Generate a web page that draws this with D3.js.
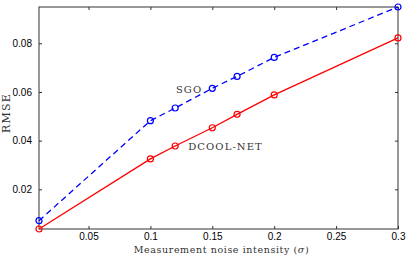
<!DOCTYPE html>
<html>
<head>
<meta charset="utf-8">
<script src="https://cdn.jsdelivr.net/npm/d3@7"></script>
<style>
  body { margin: 0; background: #fff; }
  svg { display: block; }
</style>
</head>
<body>
<script>
// noise levels (sigma) and RMSE per method
const sigma = [0.01, 0.1, 0.12, 0.15, 0.17, 0.2, 0.3];
const sgo = [0.0071, 0.0482, 0.0534, 0.0615, 0.0664, 0.0742, 0.0949];
const dcool = [0.0037, 0.0325, 0.0378, 0.0453, 0.0508, 0.0588, 0.0822];
const xTicks = [0.05, 0.1, 0.15, 0.2, 0.25, 0.3];
const yTicks = [0.02, 0.04, 0.06, 0.08];

const W = 407, H = 259;
let margin = {top: 7, right: 9, bottom: 30, left: 39},
  width = W - margin.left - margin.right,
  height = H - margin.top - margin.bottom;

let svg = d3.select("body")
  .append("svg")
  .attr("width", W)
  .attr("height", H)
  .append("g")
  .attr("transform", "translate(" + margin.left + "," + margin.top + ")");

let x = d3.scaleLinear().domain([0.01, 0.3]).range([0, width]);
let y = d3.scaleLinear().domain([0.0037, 0.0949]).range([height, 0]);

function styleAxis(g) {
  g.select(".domain").remove();
  g.selectAll("line").attr("stroke", "#333");
  g.selectAll("text")
    .style("font-family", "'Liberation Sans', Arial, sans-serif")
    .style("font-size", "10px")
    .attr("fill", "#000");
}

// bottom + left axes, ticks pointing inward
svg.append("g")
  .attr("transform", "translate(0," + height + ")")
  .call(d3.axisBottom(x).tickValues(xTicks).tickSizeInner(-3).tickSizeOuter(0).tickPadding(4).tickFormat(d3.format("")))
  .call(styleAxis);

svg.append("g")
  .call(d3.axisLeft(y).tickValues(yTicks).tickSizeInner(-3).tickSizeOuter(0).tickPadding(7).tickFormat(d3.format(".2f")))
  .call(styleAxis);

// mirror ticks on top and right
svg.append("g")
  .call(d3.axisTop(x).tickValues(xTicks).tickSizeInner(-3).tickSizeOuter(0).tickFormat(""))
  .call(styleAxis);
svg.append("g")
  .attr("transform", "translate(" + width + ",0)")
  .call(d3.axisRight(y).tickValues(yTicks).tickSizeInner(-3).tickSizeOuter(0).tickFormat(""))
  .call(styleAxis);

// box
svg.append("rect")
  .attr("width", width)
  .attr("height", height)
  .attr("fill", "none")
  .attr("stroke", "#333")
  .attr("stroke-width", 1);

let line = d3.line()
  .x(d => x(d[0]))
  .y(d => y(d[1]));

const series = [
  {vals: dcool, color: "#ff0000", dash: null},
  {vals: sgo, color: "#0000ff", dash: "6,4"}
];

series.forEach(s => {
  let pts = sigma.map((v, i) => [v, s.vals[i]]);
  svg.append("path")
    .datum(pts)
    .attr("d", line)
    .attr("fill", "none")
    .attr("stroke", s.color)
    .attr("stroke-width", 1.3)
    .attr("stroke-dasharray", s.dash);
  svg.selectAll(null)
    .data(pts)
    .enter()
    .append("circle")
    .attr("cx", d => x(d[0]))
    .attr("cy", d => y(d[1]))
    .attr("r", 3)
    .attr("fill", "none")
    .attr("stroke", s.color)
    .attr("stroke-width", 1.2);
});

const serif = "'DejaVu Serif', 'Liberation Serif', serif";

// series labels
svg.append("text")
  .attr("x", x(0.1) + 25.5)
  .attr("y", y(0.0615) + 4.7)
  .style("font-family", serif)
  .style("font-size", "10px")
  .style("letter-spacing", "1.1px")
  .attr("fill", "#333")
  .text("SGO");

svg.append("text")
  .attr("x", x(0.12) + 13)
  .attr("y", y(0.0378) + 4.3)
  .style("font-family", serif)
  .style("font-size", "10px")
  .style("letter-spacing", "1.1px")
  .attr("fill", "#333")
  .text("DCOOL-NET");

// axis titles
svg.append("text")
  .attr("x", width / 2 + 3)
  .attr("y", height + 23.5)
  .attr("text-anchor", "middle")
  .style("font-family", serif)
  .style("font-size", "9.5px")
  .style("letter-spacing", "0.6px")
  .attr("fill", "#333")
  .html("Measurement noise intensity (<tspan font-style='italic'>σ</tspan>)");

svg.append("text")
  .attr("transform", "translate(" + (-29.5) + "," + (height / 2 - 5) + ")rotate(-90)")
  .attr("text-anchor", "middle")
  .style("font-family", serif)
  .style("font-size", "11px")
  .style("letter-spacing", "1.2px")
  .attr("fill", "#333")
  .text("RMSE");
</script>
</body>
</html>
